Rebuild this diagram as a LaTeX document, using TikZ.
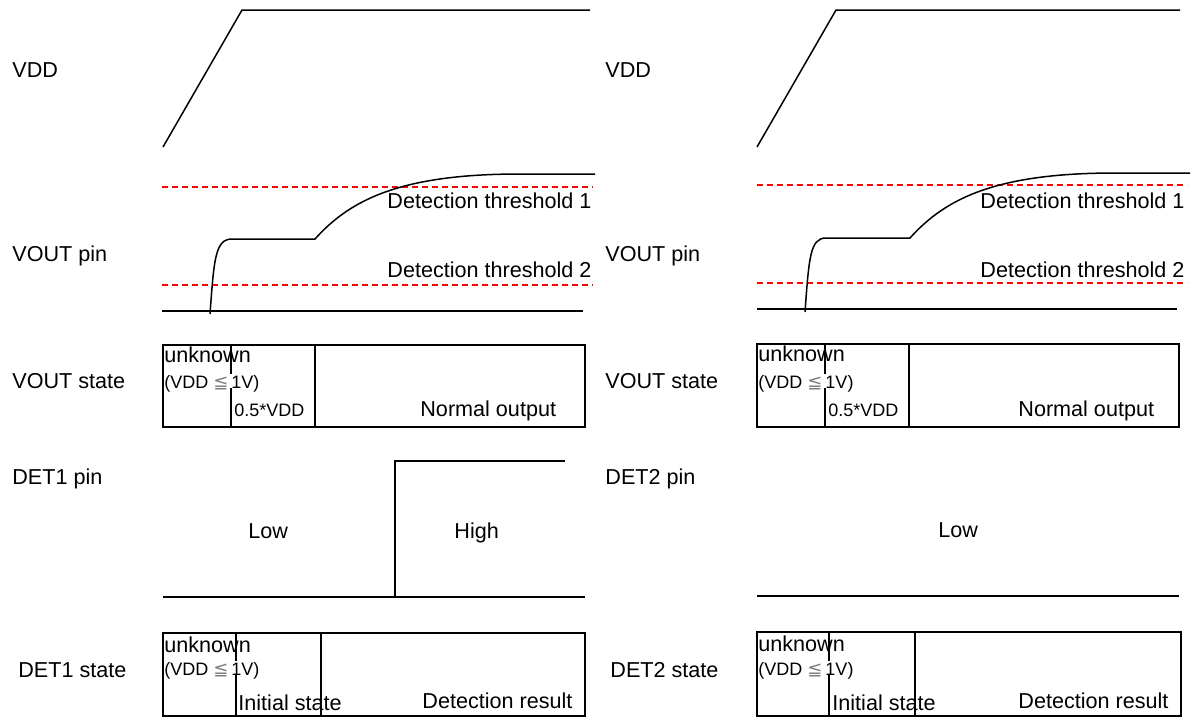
\documentclass[tikz,border=0pt]{standalone}
\usepackage{fontspec}
\setmainfont{Liberation Sans}
\newfontfamily\symfont{DejaVu Sans}
\tikzset{
  sig/.style={line width=0.75pt},
  thr/.style={red, line width=0.6pt, dash pattern=on 3pt off 2pt},
  lbl/.style={anchor=west, inner sep=0pt, text height=0.72em, text depth=0pt,
    font=\fontsize{10.8}{13}\selectfont},
  small/.style={anchor=west, inner sep=0pt, text height=0.72em, text depth=0pt,
    font=\fontsize{9}{11}\selectfont},
}
\newcommand{\vddle}{(VDD {\symfont\textcolor{gray}{≦}}\,1V)}
\begin{document}
\begin{tikzpicture}[x=0.5pt,y=-0.5pt]
            \useasboundingbox (0,0) rectangle (1194,718);
            \draw (12,70) node[lbl] (vddA) {VDD};
            \draw (12,254) node[lbl] (voutA) {VOUT pin};
            \draw (12,381) node[lbl] (vstA) {VOUT state};
            \draw (12,477) node[lbl] (detA) {DET1 pin};
            \draw (18,670) node[lbl] (dstA) {DET1 state};
            \draw (605,70) node[lbl] (vddB) {VDD};
            \draw (605,254) node[lbl] (voutB) {VOUT pin};
            \draw (605,381) node[lbl] (vstB) {VOUT state};
            \draw (605,477) node[lbl] (detB) {DET2 pin};
            \draw (610,670) node[lbl] (dstB) {DET2 state};
            \draw[sig] (163,147) -- (242,10) -- (590,10);
            \draw[thr] (162,187) -- (593,187);
            \draw[thr] (162,285) -- (593,285);
            \draw (387,201) node[lbl] (thA1) {Detection threshold 1};
            \draw (387,270) node[lbl] (thA2) {Detection threshold 2};
            \draw[sig] (162,311) -- (583,311);
            \draw[sig] (210,314) .. controls (214,260) and (215,239) .. (232,239) -- (315,239)
                .. controls (350,200) and (400,174) .. (520,174) -- (595,174);
            \draw[sig] (163,345) rectangle (585,427);
            \draw[sig] (231,345) -- (231,427);
            \draw[sig] (315,345) -- (315,427);
            \draw (164,355) node[lbl] (unkA1) {unknown};
            \draw (164,381) node[small, fill=white] (leA1) {\vddle};
            \draw (234,409) node[small] (halfA) {0.5*VDD};
            \draw (420,409) node[lbl] (normA) {Normal output};
            \draw[sig] (163,597) -- (395,597) -- (395,461) -- (565,461);
            \draw[sig] (395,597) -- (585,597);
            \draw (248,531) node[lbl] (lowA) {Low};
            \draw (454,531) node[lbl] (highA) {High};
            \draw[sig] (163,633) rectangle (585,716);
            \draw[sig] (236,633) -- (236,716);
            \draw[sig] (321,633) -- (321,716);
            \draw (164,645) node[lbl] (unkA2) {unknown};
            \draw (164,668) node[small, fill=white] (leA2) {\vddle};
            \draw (238,703) node[lbl] (initA) {Initial state};
            \draw (422,701) node[lbl] (resA) {Detection result};
            \draw[sig] (757,147) -- (836,10) -- (1180,10);
            \draw[thr] (757,185) -- (1187,185);
            \draw[thr] (757,283) -- (1187,283);
            \draw (980,201) node[lbl] (thB1) {Detection threshold 1};
            \draw (980,270) node[lbl] (thB2) {Detection threshold 2};
            \draw[sig] (757,309) -- (1177,309);
            \draw[sig] (805,312) .. controls (809,258) and (810,238) .. (826,238) -- (910,238)
                .. controls (945,199) and (995,173) .. (1115,173) -- (1190,173);
            \draw[sig] (757,344) rectangle (1179,427);
            \draw[sig] (825,344) -- (825,427);
            \draw[sig] (909,344) -- (909,427);
            \draw (758,354) node[lbl] (unkB1) {unknown};
            \draw (758,381) node[small, fill=white] (leB1) {\vddle};
            \draw (828,409) node[small] (halfB) {0.5*VDD};
            \draw (1018,409) node[lbl] (normB) {Normal output};
            \draw[sig] (757,596) -- (1179,596);
            \draw (938,530) node[lbl] (lowB) {Low};
            \draw[sig] (757,632) rectangle (1181,716);
            \draw[sig] (829,632) -- (829,716);
            \draw[sig] (915,632) -- (915,716);
            \draw (758,644) node[lbl] (unkB2) {unknown};
            \draw (758,668) node[small, fill=white] (leB2) {\vddle};
            \draw (832,703) node[lbl] (initB) {Initial state};
            \draw (1018,701) node[lbl] (resB) {Detection result};
\end{tikzpicture}
\end{document}
